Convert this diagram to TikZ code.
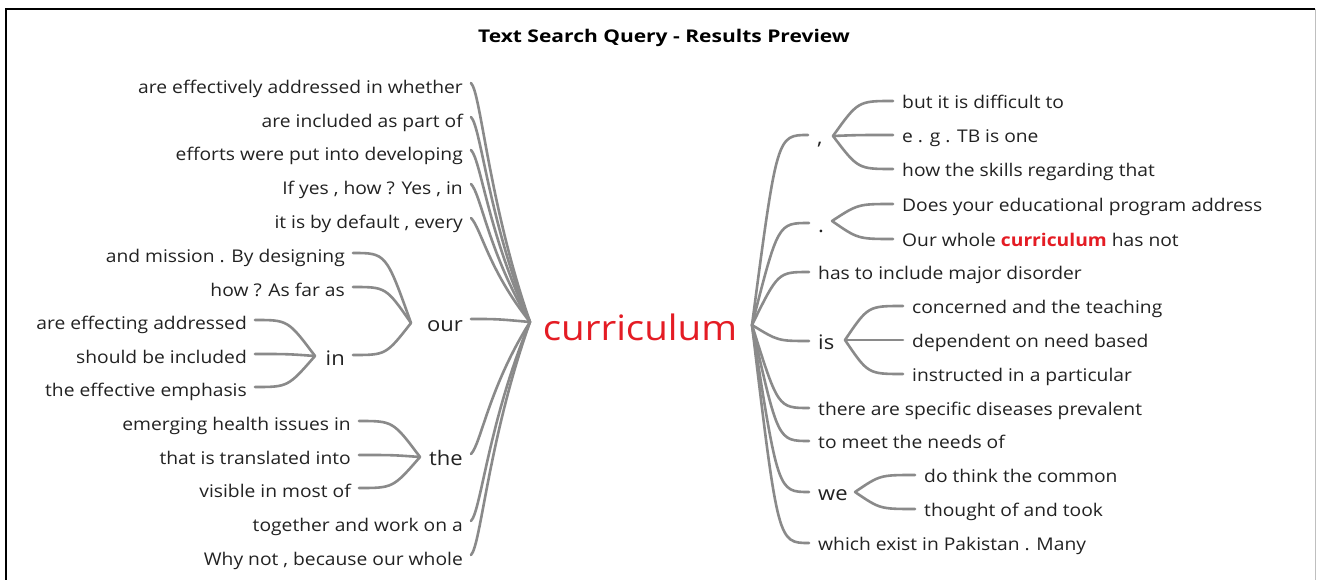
\documentclass[tikz,border=0pt]{standalone}
\usepackage{fontspec}
\setmainfont{Open Sans}[FakeStretch=1.1]
\newfontfamily\titlefont{Open Sans}[FakeStretch=1.2]
\usetikzlibrary{calc}
\definecolor{txtc}{HTML}{222222}
\definecolor{linec}{HTML}{8A8A8A}
\definecolor{curred}{RGB}{228,28,36}
\begin{document}
\begin{tikzpicture}[x=1pt,y=-1pt,
  txt/.style={font=\fontsize{17.5}{19}\selectfont, text=txtc, inner sep=0pt, text height=14pt, text depth=0.6pt},
  wrd/.style={font=\fontsize{20}{22}\selectfont, text=txtc, inner sep=0pt, text height=16pt, text depth=0.7pt},
  lt/.style={txt, anchor=east},
  rt/.style={txt, anchor=west},
  lw/.style={wrd, anchor=east},
  rw/.style={wrd, anchor=west},
  br/.style={draw=linec, line width=2.6pt, line cap=round}]
\useasboundingbox (0,0) rectangle (1318,580);
\fill[white] (0,0) rectangle (1318,580);
\draw[black, line width=2pt] (6,581) -- (6,9) -- (1315,9);
\draw[black!25, line width=1pt] (1315,9) -- (1315,581);
% title
\node[font=\titlefont\bfseries\fontsize{17.5}{19}\selectfont, inner sep=0pt] (title) at (664,37.5) {Text Search Query - Results Preview};
% centre
\node[font=\fontsize{35}{40}\selectfont, text=curred, inner sep=0pt] (cur) at (640,327) {curriculum};
\coordinate (cL) at (530,322);
\coordinate (cR) at (752,325);
% left leaves
\node[lt] (l1) at (463,87) {are effectively addressed in whether};
\node[lt] (l2) at (463,121) {are included as part of};
\node[lt] (l3) at (463,154) {efforts were put into developing};
\node[lt] (l4) at (463,188) {If yes , how ? Yes , in};
\node[lt] (l5) at (463,222) {it is by default , every};
\node[lw] (our) at (463,324) {our};
\node[lw] (the) at (463,458) {the};
\node[lt] (l6) at (463,525) {together and work on a};
\node[lt] (l7) at (463,559) {Why not , because our whole};
% our children
\coordinate (oc) at (411,323);
\node[lt] (o1) at (345,256) {and mission . By designing};
\node[lt] (o2) at (345,290) {how ? As far as};
\node[lw] (in) at (345,358) {in};
% in children
\coordinate (ic) at (315,356);
\node[lt] (i1) at (247,323) {are effecting addressed};
\node[lt] (i2) at (247,357) {should be included};
\node[lt] (i3) at (247,390) {the effective emphasis};
% the children
\coordinate (tc) at (420,457);
\node[lt] (t1) at (351,424) {emerging health issues in};
\node[lt] (t2) at (351,458) {that is translated into};
\node[lt] (t3) at (351,491) {visible in most of};
% right side
\node[rw] (comma) at (817,137) {,};
\coordinate (cc) at (833,136);
\node[rt] (rc1) at (902,102) {but it is difficult to};
\node[rt] (rc2) at (902,136) {e . g . TB is one};
\node[rt] (rc3) at (902,170) {how the skills regarding that};
\node[rw] (dot) at (818,225) {.};
\coordinate (dc) at (832,221);
\node[rt] (rd1) at (902,205) {Does your educational program address};
\node[rt] (rd2) at (902,240) {Our whole {\bfseries\color{curred}curriculum} has not};
\node[rt] (r3) at (818,273) {has to include major disorder};
\node[rw] (is) at (818,342) {is};
\coordinate (isc) at (845,340);
\node[rt] (ri1) at (912,307) {concerned and the teaching};
\node[rt] (ri2) at (912,341) {dependent on need based};
\node[rt] (ri3) at (912,375) {instructed in a particular};
\node[rt] (r5) at (818,409) {there are specific diseases prevalent};
\node[rt] (r6) at (818,442) {to meet the needs of};
\node[rw] (we) at (818,493) {we};
\coordinate (wc) at (855,492);
\node[rt] (rw1) at (924,476) {do think the common};
\node[rt] (rw2) at (924,510) {thought of and took};
\node[rt] (r8) at (818,544) {which exist in Pakistan . Many};
% left connectors to centre
\foreach \n in {l1,l2,l3,l4,l5}
  \draw[br] ([xshift=8pt,yshift=4pt]\n.east) coordinate (s) .. controls ($(s)+(10,10)$) and ($(s)!0.5!(cL)+(-12,0)$) .. (cL);
\foreach \n in {the,l6,l7}
  \draw[br] ([xshift=8pt,yshift=4pt]\n.east) coordinate (s) .. controls ($(s)+(10,-10)$) and ($(s)!0.5!(cL)+(-12,0)$) .. (cL);
\draw[br] ([xshift=8pt,yshift=5pt]our.east) .. controls ([xshift=34pt,yshift=5pt]our.east) .. (cL);
\foreach \n in {o1,o2,in}
  \draw[br] ([xshift=8pt,yshift=3pt]\n.east) .. controls ([xshift=41pt,yshift=3pt]\n.east) .. (oc);
\foreach \n in {i1,i2,i3}
  \draw[br] ([xshift=8pt,yshift=3pt]\n.east) .. controls ([xshift=41pt,yshift=3pt]\n.east) .. (ic);
\foreach \n in {t1,t2,t3}
  \draw[br] ([xshift=8pt,yshift=3pt]\n.east) .. controls ([xshift=42pt,yshift=3pt]\n.east) .. (tc);
% right connectors from centre
\foreach \n in {comma,dot}
  \draw[br] (cR) .. controls ([xshift=-40pt,yshift=2pt]\n.west) .. ([xshift=-9pt,yshift=2pt]\n.west);
\foreach \n in {r3,is,r5,r6,we,r8}
  \draw[br] (cR) .. controls ([xshift=-40pt,yshift=1pt]\n.west) .. ([xshift=-9pt,yshift=1pt]\n.west);
\foreach \n in {rc1,rc2,rc3}
  \draw[br] (cc) .. controls ([xshift=-44pt,yshift=1pt]\n.west) .. ([xshift=-9pt,yshift=1pt]\n.west);
\foreach \n in {rd1,rd2}
  \draw[br] (dc) .. controls ([xshift=-44pt,yshift=1pt]\n.west) .. ([xshift=-9pt,yshift=1pt]\n.west);
\foreach \n in {ri1,ri2,ri3}
  \draw[br] (isc) .. controls ([xshift=-44pt,yshift=1pt]\n.west) .. ([xshift=-9pt,yshift=1pt]\n.west);
\foreach \n in {rw1,rw2}
  \draw[br] (wc) .. controls ([xshift=-44pt,yshift=1pt]\n.west) .. ([xshift=-9pt,yshift=1pt]\n.west);
\end{tikzpicture}
\end{document}
